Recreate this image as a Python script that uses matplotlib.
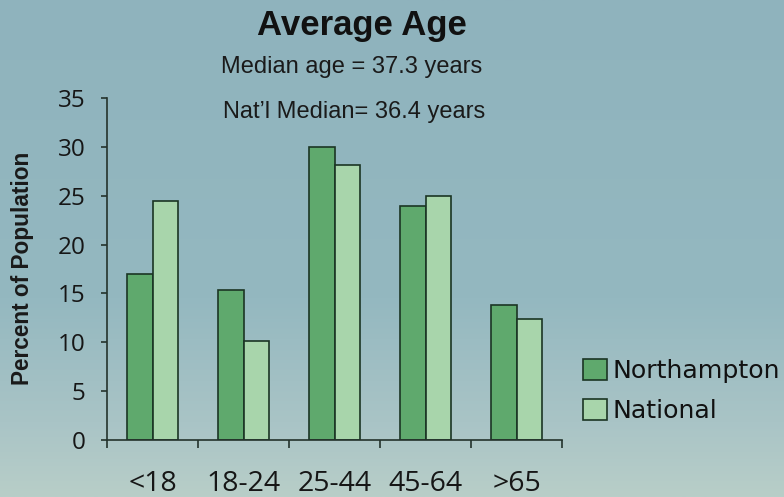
import numpy as np
import matplotlib
matplotlib.use("Agg")
import matplotlib.pyplot as plt
from matplotlib.colors import LinearSegmentedColormap

# Age distribution (percent of population)
age_groups = ["<18", "18-24", "25-44", "45-64", ">65"]
northampton = [17.0, 15.3, 30.0, 23.9, 13.8]
national = [24.5, 10.1, 28.1, 25.0, 12.4]
series_names = ["Northampton", "National"]
y_ticks = [0, 5, 10, 15, 20, 25, 30, 35]

title = "Average Age"
subtitle_1 = "Median age = 37.3 years"
subtitle_2 = "Nat\u2019l Median= 36.4 years"

W, H = 784, 497
fig = plt.figure(figsize=(W / 100, H / 100), dpi=100)

# soft blue-grey backdrop fading to a pale green-grey at the bottom
bg = fig.add_axes([0, 0, 1, 1], zorder=-10)
bg_cmap = LinearSegmentedColormap.from_list(
    "backdrop",
    [(0.0, "#8fb3bd"), (0.6, "#94b8c0"), (0.85, "#a9c4c6"), (1.0, "#b8cec8")],
)
grad = np.linspace(0, 1, 256).reshape(-1, 1)
bg.imshow(grad, aspect="auto", cmap=bg_cmap, extent=[0, 1, 1, 0])
bg.set_axis_off()

def fx(px):
    return px / W

def fy(py):
    return 1 - py / H

ax = fig.add_axes([fx(107), fy(440), fx(562) - fx(107), fy(98) - fy(440)])
ax.set_facecolor("none")

x = np.arange(len(age_groups))
bw = 0.285
dark = "#5fa96d"
light = "#a8d5ab"
edge = "#1b3524"
ax.bar(x - bw / 2, northampton, width=bw, color=dark, edgecolor=edge,
       linewidth=1.2, label=series_names[0])
ax.bar(x + bw / 2, national, width=bw, color=light, edgecolor=edge,
       linewidth=1.2, label=series_names[1])

ax.set_xlim(-0.5, len(age_groups) - 0.5)
ax.set_ylim(0, 35)

for s in ["top", "right"]:
    ax.spines[s].set_visible(False)
for s in ["left", "bottom"]:
    ax.spines[s].set_color("#24332c")
    ax.spines[s].set_linewidth(1.2)

tick_font = ["Open Sans", "DejaVu Sans"]
ax.set_yticks(y_ticks)
ax.set_yticklabels([str(v) for v in y_ticks], family=tick_font, fontsize=17.5,
                   color="#161616")
ax.tick_params(axis="y", direction="out", length=4.5, width=1.2,
               color="#24332c", pad=11)

ax.set_xticks(x)
ax.set_xticklabels(age_groups, family=tick_font, fontsize=20.5, color="#161616")
ax.set_xticks(np.arange(-0.5, len(age_groups)), minor=True)
ax.tick_params(axis="x", which="major", length=0, pad=21.5)
ax.tick_params(axis="x", which="minor", direction="out", length=6, width=1.2,
               color="#24332c")

fig.text(fx(23), fy(268), "Percent of Population", rotation=90, ha="center",
         va="center", fontsize=16.3, fontweight="bold",
         family="Liberation Sans", color="#1a1a1a")

fig.text(fx(362), fy(35), title, ha="center", va="baseline", fontsize=25,
         fontweight="bold", family="Liberation Sans", color="#111111")
fig.text(fx(352), fy(73), subtitle_1, ha="center", va="baseline", fontsize=17,
         family="Liberation Sans", color="#1a1a1a")
fig.text(fx(354), fy(118), subtitle_2, ha="center", va="baseline", fontsize=17,
         family="Liberation Sans", color="#1a1a1a")

leg = ax.legend(loc="upper left", bbox_to_anchor=(fx(583), fy(359)),
                bbox_transform=fig.transFigure, frameon=False,
                prop={"family": "DejaVu Sans", "size": 18.2},
                handlelength=0.95, handleheight=0.92, handletextpad=0.2,
                labelspacing=0.6, borderpad=0, borderaxespad=0)
for t in leg.get_texts():
    t.set_color("#111111")

fig.savefig("out.png", dpi=100)
